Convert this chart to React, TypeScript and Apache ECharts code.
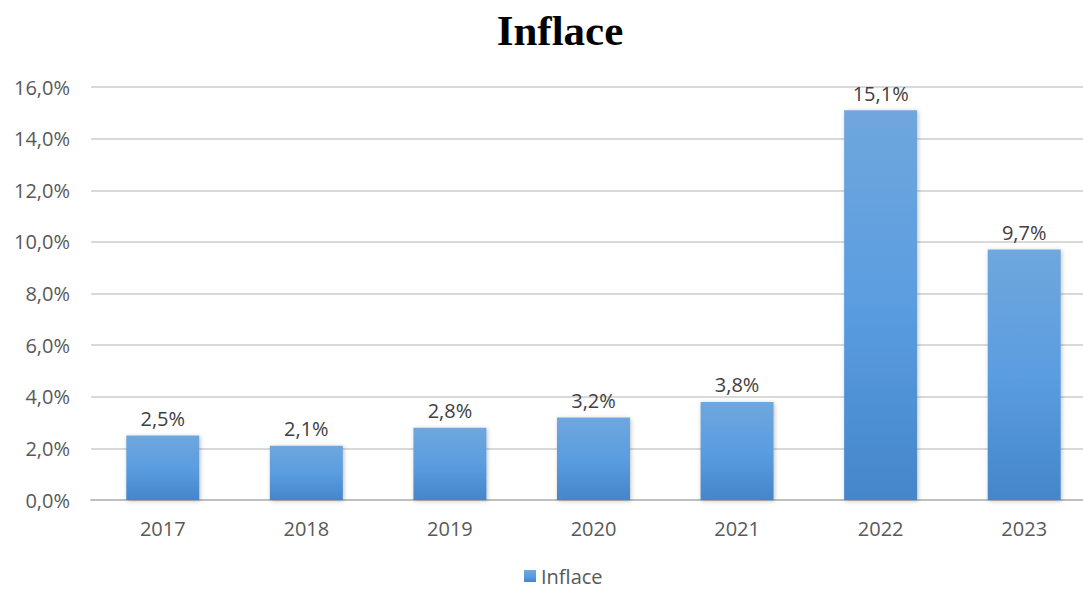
import React, { useEffect, useRef } from "react";
import * as echarts from "echarts";

const categories = ["2017", "2018", "2019", "2020", "2021", "2022", "2023"];
const inflace = [2.5, 2.1, 2.8, 3.2, 3.8, 15.1, 9.7];
const seriesName = "Inflace";
const titleText = "Inflace";

const fmt = (v: number) => v.toFixed(1).replace(".", ",") + "%";

export default function App() {
  const ref = useRef<HTMLDivElement>(null);
  useEffect(() => {
    if (!ref.current) return;
    const chart = echarts.init(ref.current, null, { renderer: "svg" });
    const font = "'Open Sans', 'Noto Sans', sans-serif";
    chart.setOption({
      animation: false,
      backgroundColor: "#ffffff",
      title: {
        text: titleText,
        left: 555,
        textAlign: "center",
        top: 4,
        textStyle: {
          fontFamily: "'Liberation Serif', 'DejaVu Serif', serif",
          fontWeight: "bold",
          fontSize: 43,
          color: "#000000",
        },
      },
      legend: {
        data: [seriesName],
        left: 524,
        top: 566,
        padding: 0,
        itemWidth: 12,
        itemHeight: 12,
        icon: "rect",
        itemGap: 6,
        textStyle: {
          fontFamily: font,
          fontSize: 20,
          color: "#595959",
          padding: [0, 0, 0, 0],
        },
      },
      grid: { left: 91, right: 0, top: 87, bottom: 91 },
      xAxis: {
        type: "category",
        data: categories,
        axisTick: { show: false },
        axisLine: { lineStyle: { color: "#bfbfbf", width: 2 } },
        axisLabel: { fontFamily: font, fontSize: 20, color: "#595959", margin: 18 },
      },
      yAxis: {
        type: "value",
        min: 0,
        max: 16,
        interval: 2,
        axisLabel: {
          fontFamily: font,
          fontSize: 20,
          color: "#595959",
          margin: 21,
          formatter: (v: number) => fmt(v),
        },
        splitLine: { lineStyle: { color: "#d9d9d9", width: 2 } },
        axisLine: { show: false },
        axisTick: { show: false },
      },
      series: [
        {
          name: seriesName,
          type: "bar",
          data: inflace,
          barWidth: 73,
          itemStyle: {
            color: new echarts.graphic.LinearGradient(0, 0, 0, 1, [
              { offset: 0, color: "#6fa7dd" },
              { offset: 0.5, color: "#5a9de0" },
              { offset: 1, color: "#4486c9" },
            ]),
            shadowColor: "rgba(0,0,0,0.25)",
            shadowBlur: 4,
            shadowOffsetX: 1,
            shadowOffsetY: 1,
          },
          label: {
            show: true,
            position: "top",
            distance: 7,
            fontFamily: font,
            fontSize: 20,
            color: "#404040",
            formatter: (p: any) => fmt(p.value),
          },
        },
      ],
      color: ["#5b9bd5"],
    });
    return () => chart.dispose();
  }, []);
  return (
    <div
      ref={ref}
      style={{ position: "fixed", left: 0, top: 0, width: 1096, height: 591 }}
    />
  );
}
